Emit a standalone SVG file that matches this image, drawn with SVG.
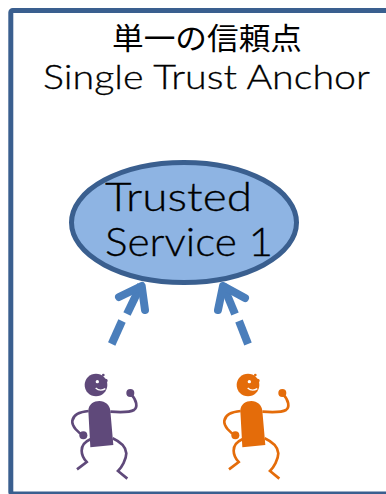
<svg xmlns="http://www.w3.org/2000/svg" width="386" height="494" viewBox="0 0 386 494">
<style>
.t{font-family:"Lato","Noto Sans CJK JP",sans-serif;font-weight:300;fill:#000;stroke:#000;stroke-width:.3}
.j{font-family:"Noto Sans CJK JP",sans-serif;font-weight:400;fill:#000}
.a{fill:none;stroke:#4a7ebb;stroke-width:8}
.l{fill:none;stroke:currentColor;stroke-width:8}
</style>
<defs>
<g id="person">
<path fill="currentColor" d="M121 262L115 152C116 132 132 123 148 123C166 123 180 136 181 152L190 255Z"/>
<circle cx="138" cy="75" r="34" fill="currentColor"/>
<circle cx="160" cy="45" r="4" fill="currentColor"/>
<circle cx="167" cy="62" r="6" fill="currentColor"/>
<circle cx="142" cy="65" r="5" fill="#fff"/>
<path d="M137 84Q150 96 166 86" fill="none" stroke="#fff" stroke-width="4"/>
<path class="l" d="M181 155C210 157 240 157 252 150C264 142 260 120 244 104"/>
<circle cx="241" cy="99" r="12" fill="currentColor"/>
<path class="l" d="M116 153C90 155 70 165 67 182C65 200 85 218 100 226"/>
<circle cx="100" cy="226" r="12" fill="currentColor"/>
<path class="l" d="M121 238C105 245 95 258 95 272C95 285 103 298 110 306L81 328"/>
<path class="l" d="M188 235C210 245 228 262 229 280C229 298 215 322 204 333L232 356"/>
</g>
</defs>
<rect id="frame" x="10.800" y="10.500" width="400" height="483.500" rx="2" fill="#fff" stroke="#3a5f8f" stroke-width="5"/>
<g id="title">
<text class="j" x="207" y="49" font-size="30" text-anchor="middle" textLength="190" lengthAdjust="spacingAndGlyphs">単一の信頼点</text>
<text class="t" x="43" y="89" font-size="33" textLength="327" lengthAdjust="spacingAndGlyphs">Single Trust Anchor</text>
</g>
<g id="service">
<ellipse cx="184" cy="222.500" rx="112.500" ry="60" fill="#8eb4e3" stroke="#3a5f8f" stroke-width="5"/>
<text class="t" x="105" y="211" font-size="39" textLength="147" lengthAdjust="spacingAndGlyphs">Trusted</text>
<text class="t" x="105" y="256" font-size="39" textLength="168" lengthAdjust="spacingAndGlyphs">Service 1</text>
</g>
<g id="connectors">
<path class="a" d="M111.700 344L122 321"/>
<path class="a" d="M127 314L141 285"/>
<path class="a" stroke-linecap="round" stroke-linejoin="round" d="M119 297L141.700 286L145 310"/>
<path class="a" d="M248 344L239 321"/>
<path class="a" d="M235 314L223 285"/>
<path class="a" stroke-linecap="round" stroke-linejoin="round" d="M218 310L223 286L245 298"/>
</g>
<g id="person1" color="#5f497a"><use href="#person" transform="translate(50 360) scale(.3333)"/></g>
<g id="person2" color="#e46c0a"><use href="#person" transform="translate(202 360) scale(.3333)"/></g>
</svg>
